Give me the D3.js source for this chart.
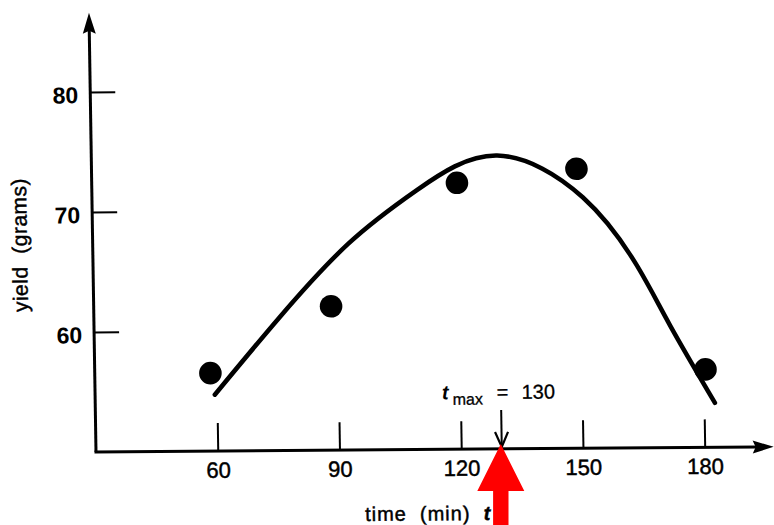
<!DOCTYPE html>
<html>
<head>
<meta charset="utf-8">
<script src="https://cdn.jsdelivr.net/npm/d3@7"></script>
<style>
body { margin: 0; background: #fff; }
svg { display: block; font-family: "Liberation Sans", Arial, sans-serif; }
</style>
</head>
<body>
<svg id="chart" width="774" height="525"></svg>
<script>
// measured yields (the dots)
let times = [58.5, 88.5, 120, 149.5, 180.5]
let yields = [56.5, 62.0, 72.2, 73.3, 56.5]

// fitted curve
let curve_t = [59.5, 76, 93, 110, 130, 151, 164, 172, 182.7]
let curve_y = [54.7, 61.2, 67.2, 71.6, 74.45, 70.9, 65.2, 60.15, 53.7]

let x_ticks = [60, 90, 120, 150, 180]
let y_ticks = [60, 70, 80]
let t_max = 130

let ORIGIN = { x: 96, y: 452 }
// the scanned figure is not quite square
let SKEW = { x: 0.016, y: -0.0076 }
let X_END = 197
let Y_END = 86.6
// scanned type is a bit heavier than the regular face
let INK = 0.45

let svg = d3.select('#chart')

let x = d3.scaleLinear().domain([30, 180]).range([0, 608.7])
let y = d3.scaleLinear().domain([50, 80]).range([0, -360])

let g = svg.append('g')
	.attr('transform', `matrix(1, ${SKEW.y}, ${SKEW.x}, 1, ${ORIGIN.x}, ${ORIGIN.y})`)

// axis lines with arrow heads
g.append('line')
	.attr('x1', x(30)).attr('y1', y(50))
	.attr('x2', x(30)).attr('y2', y(Y_END) + 16)
	.attr('stroke', '#000').attr('stroke-width', 3)
g.append('path')
	.attr('d', `M ${x(30)} ${y(Y_END)} L ${x(30) - 6.5} ${y(Y_END) + 21} L ${x(30)} ${y(Y_END) + 18} L ${x(30) + 6.5} ${y(Y_END) + 21} Z`)
	.attr('fill', '#000')

g.append('line')
	.attr('x1', x(30) - 1.5).attr('y1', y(50))
	.attr('x2', x(X_END) - 16).attr('y2', y(50))
	.attr('stroke', '#000').attr('stroke-width', 3)
g.append('path')
	.attr('d', `M ${x(X_END)} ${y(50)} L ${x(X_END) - 21} ${y(50) - 6.5} L ${x(X_END) - 18} ${y(50)} L ${x(X_END) - 21} ${y(50) + 6.5} Z`)
	.attr('fill', '#000')

// ticks
let x_axis = g.append('g')
	.call(d3.axisBottom(x).tickValues(x_ticks).tickSizeInner(-28).tickSizeOuter(0).tickPadding(11))
x_axis.select('.domain').remove()
x_axis.selectAll('line').attr('stroke', '#000').attr('stroke-width', 2)
x_axis.selectAll('text')
	.attr('fill', '#000')
	.attr('stroke', '#000').attr('stroke-width', INK)
	.attr('font-size', 22)
	.attr('font-family', '"Liberation Sans", Arial, sans-serif')

let y_axis = g.append('g')
	.call(d3.axisLeft(y).tickValues(y_ticks).tickSizeInner(-25).tickSizeOuter(0).tickPadding(12))
y_axis.select('.domain').remove()
y_axis.selectAll('line').attr('stroke', '#000').attr('stroke-width', 2)
y_axis.selectAll('text')
	.attr('fill', '#000')
	.attr('dy', '0.46em')
	.attr('font-size', 23)
	.attr('font-weight', 'bold')
	.attr('font-family', '"Liberation Sans", Arial, sans-serif')

// axis titles
g.append('text')
	.attr('transform', `translate(-65.7, -207.5) rotate(-90)`)
	.attr('text-anchor', 'middle')
	.attr('font-size', 21)
	.attr('letter-spacing', 0.5)
	.attr('stroke', '#000').attr('stroke-width', INK)
	.style('white-space', 'pre')
	.text('yield  (grams)')

let x_title = g.append('text')
	.attr('x', 268)
	.attr('y', 71)
	.attr('font-size', 20)
	.attr('letter-spacing', 1)
	.attr('stroke', '#000').attr('stroke-width', INK)
	.style('white-space', 'pre')
x_title.append('tspan').text('time  (min)  ')
x_title.append('tspan').attr('font-style', 'italic').attr('font-weight', 'bold').text('t')

// fitted curve
let curve_data = curve_t.map((t, i) => { return { t: t, v: curve_y[i] } })
let line = d3.line()
	.x((d) => { return x(d.t) })
	.y((d) => { return y(d.v) })
	.curve(d3.curveNatural)

g.append('path')
	.datum(curve_data)
	.attr('d', line)
	.attr('fill', 'none')
	.attr('stroke', '#000')
	.attr('stroke-width', 4.5)
	.attr('stroke-linecap', 'round')

// points
g.selectAll('circle.point')
	.data(times.map((t, i) => { return { t: t, v: yields[i] } }))
	.enter().append('circle')
		.attr('class', 'point')
		.attr('cx', (d) => { return x(d.t) })
		.attr('cy', (d) => { return y(d.v) })
		.attr('r', 11.3)
		.attr('fill', '#000')

// t_max marker
let tx = x(t_max)
g.append('line')
	.attr('x1', tx).attr('y1', -39)
	.attr('x2', tx).attr('y2', -3)
	.attr('stroke', '#000').attr('stroke-width', 2)
g.append('path')
	.attr('d', `M ${tx - 6.5} -17 L ${tx} -2 L ${tx + 6.5} -17`)
	.attr('fill', 'none')
	.attr('stroke', '#000').attr('stroke-width', 2.2)

g.append('text')
	.attr('x', tx - 59).attr('y', -50)
	.attr('font-size', 20).attr('font-style', 'italic').attr('font-weight', 'bold')
	.text('t')
g.append('text')
	.attr('x', tx - 48.3).attr('y', -44.5)
	.attr('font-size', 16)
	.attr('stroke', '#000').attr('stroke-width', 0.3)
	.text('max')
g.append('text')
	.attr('x', tx - 4.3).attr('y', -50)
	.attr('font-size', 20)
	.attr('stroke', '#000').attr('stroke-width', 0.3)
	.text('=')
g.append('text')
	.attr('x', tx + 20.7).attr('y', -50)
	.attr('font-size', 20)
	.attr('stroke', '#000').attr('stroke-width', 0.3)
	.text(t_max)

// red pointer under the optimum
let cx = ORIGIN.x + tx - 1
let tip = ORIGIN.y - 8
svg.append('path')
	.attr('d', `M ${cx} ${tip} L ${cx + 23.5} ${tip + 47} L ${cx + 7.7} ${tip + 47} L ${cx + 7.7} 530 L ${cx - 7.7} 530 L ${cx - 7.7} ${tip + 47} L ${cx - 23.5} ${tip + 47} Z`)
	.attr('fill', '#ff0000')
</script>
</body>
</html>
